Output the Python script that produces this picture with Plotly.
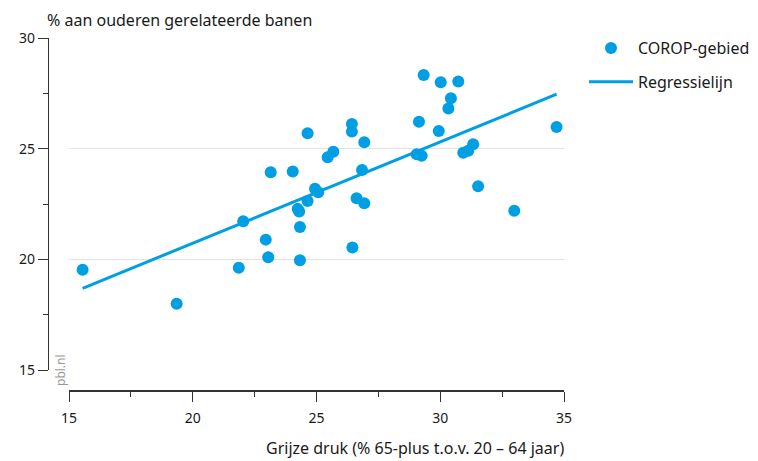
import plotly.graph_objects as go

# Data
grijze_druk = [15.55, 19.35, 21.86, 22.04, 22.95, 23.05, 23.15, 24.04, 24.24, 24.30,
               24.33, 24.33, 24.64, 24.64, 24.94, 25.07, 25.45, 25.68, 26.43, 26.43,
               26.45, 26.62, 26.84, 26.93, 26.93, 29.05, 29.14, 29.25, 29.33, 29.94,
               30.02, 30.33, 30.43, 30.73, 30.93, 31.13, 31.33, 31.53, 32.99, 34.70]
banen = [19.53, 17.99, 19.62, 21.72, 20.89, 20.09, 23.93, 23.97, 22.28, 22.16,
         21.46, 19.96, 25.70, 22.64, 23.19, 23.03, 24.61, 24.86, 26.12, 25.77,
         20.53, 22.76, 24.04, 25.29, 22.53, 24.75, 26.22, 24.68, 28.33, 25.80,
         28.00, 26.81, 27.28, 28.03, 24.82, 24.91, 25.20, 23.30, 22.20, 25.98]
reg_x = [15.55, 34.70]
reg_y = [18.69, 27.46]

x_ticks = [15, 20, 25, 30, 35]
x_minor = [17.5, 22.5, 27.5, 32.5]
y_ticks = [15, 20, 25, 30]
y_minor = [17.5, 22.5, 27.5]

# The page body has an 8px margin; the figure is sized to fit inside the window.
OFF = 8
W, H = 758 - OFF, 461 - OFF


def px(x):
    return (x - OFF) / W


def py(y):
    return 1 - (y - OFF) / H


BLUE = "#009fe3"
FONT = "Noto Sans"
AXIS = "#333333"

fig = go.Figure()
fig.add_trace(go.Scatter(
    x=reg_x, y=reg_y, mode="lines", name="Regressielijn",
    line=dict(color=BLUE, width=3), legendgroup="b", legendrank=2,
))
fig.add_trace(go.Scatter(
    x=grijze_druk, y=banen, mode="markers", name="COROP-gebied",
    marker=dict(color=BLUE, size=12), legendgroup="a", legendrank=1,
    cliponaxis=False,
))

fig.update_layout(
    width=W, height=H,
    margin=dict(l=0, r=0, t=0, b=0, autoexpand=False),
    paper_bgcolor="white", plot_bgcolor="white",
    font=dict(family=FONT, size=14, color="#1a1a1a"),
    xaxis=dict(
        domain=[px(69), px(564)], range=[15, 35],
        anchor="free", position=py(391), automargin=False,
        showgrid=False, zeroline=False,
        showline=True, linecolor=AXIS, linewidth=1.5,
        ticks="outside", ticklen=10, tickwidth=1.2, tickcolor=AXIS,
        tickmode="array", tickvals=x_ticks, ticktext=[str(v) for v in x_ticks],
        minor=dict(tickmode="array", tickvals=x_minor, ticks="outside",
                   ticklen=5, tickwidth=1.2, tickcolor=AXIS, showgrid=False),
        ticklabelstandoff=4,
        tickfont=dict(size=14),
    ),
    yaxis=dict(
        domain=[py(370), py(38)], range=[15, 30],
        anchor="free", position=px(48), automargin=False,
        showgrid=True, gridcolor="#e2e2e2", gridwidth=1, zeroline=False,
        showline=True, linecolor=AXIS, linewidth=1.2,
        ticks="outside", ticklen=10, tickwidth=1.2, tickcolor=AXIS,
        tickmode="array", tickvals=y_ticks, ticktext=[str(v) for v in y_ticks],
        minor=dict(tickmode="array", tickvals=y_minor, ticks="outside",
                   ticklen=5, tickwidth=1.2, tickcolor=AXIS, showgrid=False),
        tickfont=dict(size=14),
    ),
    legend=dict(
        x=px(584), y=py(31), xanchor="left", yanchor="top",
        traceorder="grouped", tracegroupgap=10, itemwidth=44,
        font=dict(size=16), bgcolor="rgba(0,0,0,0)",
    ),
    annotations=[
        dict(text="% aan ouderen gerelateerde banen", x=px(46), y=1.0,
             xref="paper", yref="paper", xanchor="left", yanchor="top",
             borderpad=0, showarrow=False, font=dict(size=16)),
        dict(text="Grijze druk (% 65-plus t.o.v. 20 – 64 jaar)", x=px(566), y=py(448),
             xref="paper", yref="paper", xanchor="right", yanchor="middle",
             showarrow=False, font=dict(size=16)),
        dict(text="pbl.nl", x=px(60), y=py(370), textangle=-90,
             xref="paper", yref="paper", xanchor="center", yanchor="middle",
             showarrow=False, font=dict(size=12, color="#999999")),
    ],
)

fig.write_html("out.html")
